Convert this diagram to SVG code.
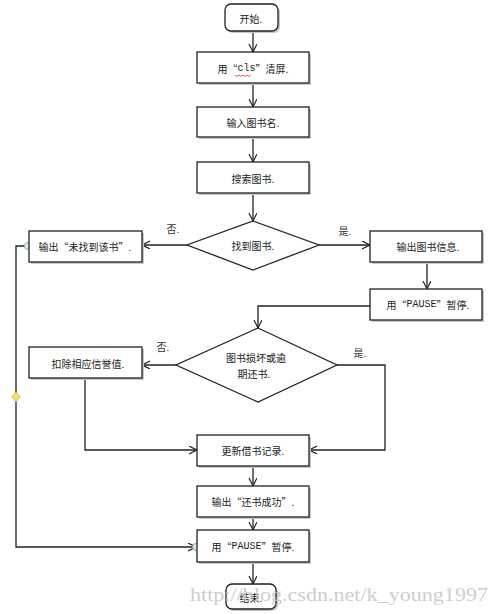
<svg xmlns="http://www.w3.org/2000/svg" width="500" height="614" viewBox="0 0 500 614">
<defs>
<marker id="arr" markerWidth="10" markerHeight="10" refX="8" refY="4" orient="auto" markerUnits="userSpaceOnUse">
<path d="M0,0 L8,4 L0,8" fill="none" stroke="#222" stroke-width="1.2"/>
</marker>
</defs>
<style>
.box{fill:#fff;stroke:#222;stroke-width:1.3}
.sh{fill:#c8c8c8}
.t{font-family:"Noto Sans CJK SC","Noto Sans",sans-serif;font-size:10px;fill:#222;text-anchor:middle;dominant-baseline:central}
.lbl{font-family:"Noto Sans CJK SC","Noto Sans",sans-serif;font-size:10px;fill:#333;text-anchor:middle}
.ln{fill:none;stroke:#222;stroke-width:1.3}
.mono{font-family:"Liberation Mono",monospace}
</style>
<rect width="500" height="614" fill="#fff"/>
<g id="connectors">
<path class="ln" d="M253,31 L253,52" marker-end="url(#arr)"/>
<path class="ln" d="M253,83 L253,107" marker-end="url(#arr)"/>
<path class="ln" d="M253,137 L253,162" marker-end="url(#arr)"/>
<path class="ln" d="M253,193 L253,221" marker-end="url(#arr)"/>
<path class="ln" d="M187,245 L142,245" marker-end="url(#arr)"/>
<path class="ln" d="M319,245 L370,245" marker-end="url(#arr)"/>
<path class="ln" d="M427,262 L427,289" marker-end="url(#arr)"/>
<path class="ln" d="M370,306 L258,306 L258,328" marker-end="url(#arr)"/>
<path class="ln" d="M176,365 L142,365" marker-end="url(#arr)"/>
<path class="ln" d="M337,365 L385,365 L385,450 L309,450" marker-end="url(#arr)"/>
<path class="ln" d="M85,378 L85,450 L197,450" marker-end="url(#arr)"/>
<path class="ln" d="M253,466 L253,486" marker-end="url(#arr)"/>
<path class="ln" d="M253,517 L253,530" marker-end="url(#arr)"/>
<path class="ln" d="M253,562 L253,584" marker-end="url(#arr)"/>
<path class="ln" d="M28,246 L16,246 L16,547 L196,547" marker-end="url(#arr)"/>
<circle cx="28" cy="246" r="3.5" fill="#dfe9f3" stroke="#8aa" stroke-width="1"/>
<circle cx="196" cy="547" r="3.5" fill="#dfe9f3" stroke="#8aa" stroke-width="1"/>
<path d="M16,392 L20,397 L16,402 L12,397 Z" fill="#f4e36a" stroke="#c9b23a" stroke-width="0.8"/>
<text class="lbl" x="173" y="233">否.</text>
<text class="lbl" x="345" y="235">是.</text>
<text class="lbl" x="163" y="351">否.</text>
<text class="lbl" x="360" y="357">是.</text>
</g>
<g id="start">
<rect class="sh" x="227" y="6" width="53" height="27" rx="6"/>
<rect class="box" x="225" y="4" width="53" height="27" rx="6"/>
<text class="t" x="251" y="18">开始.</text>
</g>
<g id="cls">
<rect class="sh" x="199" y="54" width="112" height="31"/>
<rect class="box" x="197" y="52" width="112" height="31"/>
<text class="t" x="253" y="68">用“<tspan class="mono">cls</tspan>”清屏.</text>
<path d="M235,75 l2,1.5 l2,-1.5 l2,1.5 l2,-1.5 l2,1.5 l2,-1.5 l2,1.5 l2,-1.5" fill="none" stroke="#d33" stroke-width="0.8"/>
</g>
<g id="input">
<rect class="sh" x="199" y="109" width="112" height="30"/>
<rect class="box" x="197" y="107" width="112" height="30"/>
<text class="t" x="253" y="122">输入图书名.</text>
</g>
<g id="search">
<rect class="sh" x="199" y="164" width="112" height="31"/>
<rect class="box" x="197" y="162" width="112" height="31"/>
<text class="t" x="253" y="178">搜索图书.</text>
</g>
<g id="found">
<polygon class="box" points="253,221 319,245 253,270 187,245"/>
<text class="t" x="253" y="245">找到图书.</text>
</g>
<g id="notfound">
<rect class="sh" x="31" y="233" width="113" height="31"/>
<rect class="box" x="29" y="231" width="113" height="31"/>
<text class="t" x="85" y="246">输出“未找到该书”.</text>
</g>
<g id="info">
<rect class="sh" x="372" y="233" width="112" height="31"/>
<rect class="box" x="370" y="231" width="112" height="31"/>
<text class="t" x="428" y="246">输出图书信息.</text>
</g>
<g id="pause1">
<rect class="sh" x="372" y="291" width="112" height="31"/>
<rect class="box" x="370" y="289" width="112" height="31"/>
<text class="t" x="428" y="304">用“<tspan class="mono">PAUSE</tspan>”暂停.</text>
</g>
<g id="damaged">
<polygon class="box" points="258,328 337,365 258,402 176,365"/>
<text class="t" x="256" y="357">图书损坏或逾</text>
<text class="t" x="254" y="373">期还书.</text>
</g>
<g id="deduct">
<rect class="sh" x="31" y="349" width="113" height="31"/>
<rect class="box" x="29" y="347" width="113" height="31"/>
<text class="t" x="88" y="363">扣除相应信誉值.</text>
</g>
<g id="update">
<rect class="sh" x="199" y="437" width="112" height="31"/>
<rect class="box" x="197" y="435" width="112" height="31"/>
<text class="t" x="253" y="450">更新借书记录.</text>
</g>
<g id="success">
<rect class="sh" x="199" y="488" width="112" height="31"/>
<rect class="box" x="197" y="486" width="112" height="31"/>
<text class="t" x="253" y="501">输出“还书成功”.</text>
</g>
<g id="pause2">
<rect class="sh" x="199" y="532" width="112" height="32"/>
<rect class="box" x="197" y="530" width="112" height="32"/>
<text class="t" x="253" y="546">用“<tspan class="mono">PAUSE</tspan>”暂停.</text>
</g>
<g id="end">
<rect class="sh" x="228" y="586" width="50" height="25" rx="6"/>
<rect class="box" x="226" y="584" width="50" height="25" rx="6"/>
<text class="t" x="251" y="597">结束.</text>
</g>
<text x="190" y="601" textLength="298" lengthAdjust="spacingAndGlyphs" font-family="Liberation Serif, serif" font-size="19" fill="#c4c4c4" fill-opacity="0.85">http://blog.csdn.net/k_young1997</text>
</svg>
